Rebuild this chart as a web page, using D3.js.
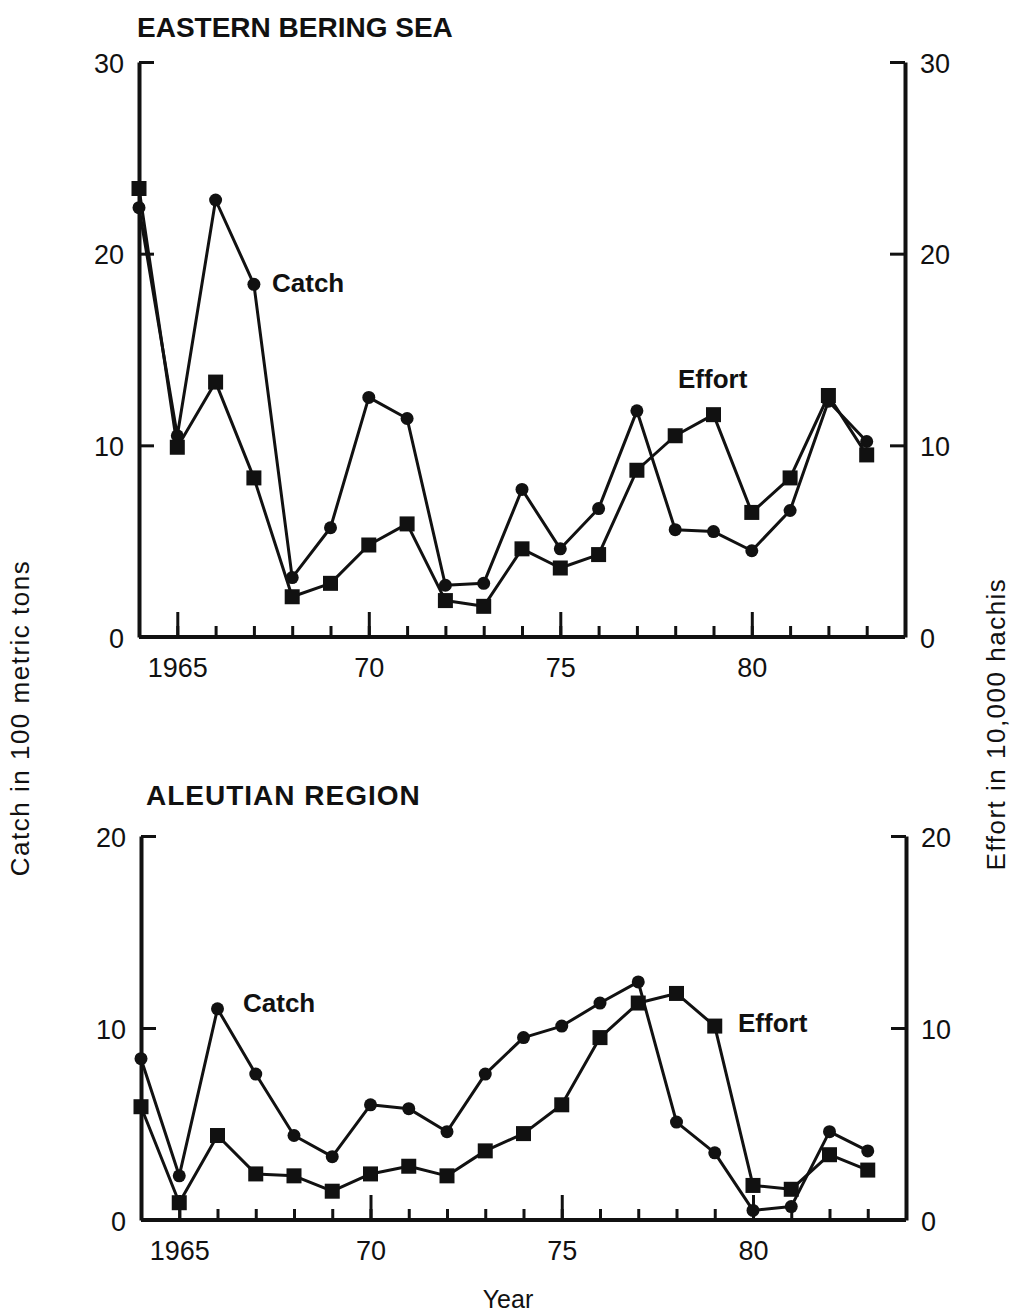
<!DOCTYPE html>
<html>
<head>
<meta charset="utf-8">
<script src="https://cdn.jsdelivr.net/npm/d3@7"></script>
<style>
  body { margin: 0; background: #fff; }
  svg { font-family: "Liberation Sans", Arial, sans-serif; }
  .tick text { font-size: 27px; fill: #111; font-family: "Liberation Sans", Arial, sans-serif; }
  .domain { stroke: #111; }
</style>
</head>
<body>
<svg id="chart" width="1010" height="1315"></svg>
<script>
// years on x
const years = d3.range(1964, 1984);
const majorYears = [1965, 1970, 1975, 1980];
const yearLabels = ["1965", "70", "75", "80"];

// Eastern Bering Sea
const beringCatch  = [22.4, 10.5, 22.8, 18.4, 3.1, 5.7, 12.5, 11.4, 2.7, 2.8, 7.7, 4.6, 6.7, 11.8, 5.6, 5.5, 4.5, 6.6, 12.3, 10.2];
const beringEffort = [23.4, 9.9, 13.3, 8.3, 2.1, 2.8, 4.8, 5.9, 1.9, 1.6, 4.6, 3.6, 4.3, 8.7, 10.5, 11.6, 6.5, 8.3, 12.6, 9.5];
const beringTicks = [0, 10, 20, 30];

// Aleutian Region
const aleutCatch  = [8.4, 2.3, 11.0, 7.6, 4.4, 3.3, 6.0, 5.8, 4.6, 7.6, 9.5, 10.1, 11.3, 12.4, 5.1, 3.5, 0.5, 0.7, 4.6, 3.6];
const aleutEffort = [5.9, 0.9, 4.4, 2.4, 2.3, 1.5, 2.4, 2.8, 2.3, 3.6, 4.5, 6.0, 9.5, 11.3, 11.8, 10.1, 1.8, 1.6, 3.4, 2.6];
const aleutTicks = [0, 10, 20];

const svg = d3.select("#chart");
const ink = "#111";

function drawPanel(opt) {
    const g = svg.append("g");
    const x = d3.scaleLinear().domain([1964, 1984]).range([opt.left, opt.right]);
    const y = d3.scaleLinear().domain([0, opt.max]).range([opt.bottom, opt.top]);

    // minor year ticks
    g.append("g")
        .attr("transform", "translate(0," + opt.bottom + ")")
        .call(d3.axisBottom(x).tickValues(years.slice(1)).tickSize(-11).tickFormat(""))
        .call(a => a.select(".domain").remove())
        .call(a => a.selectAll("line").attr("stroke", ink).attr("stroke-width", 3));

    // major year ticks + labels
    g.append("g")
        .attr("transform", "translate(0," + opt.bottom + ")")
        .call(d3.axisBottom(x).tickValues(majorYears).tickSizeInner(-25).tickSizeOuter(0)
            .tickFormat((d, i) => yearLabels[i]))
        .call(a => a.select(".domain").remove())
        .call(a => a.selectAll("line").attr("stroke", ink).attr("stroke-width", 3))
        .call(a => a.selectAll("text").attr("dy", null).attr("y", 40));

    // frame: bottom line, left and right axes
    g.append("line")
        .attr("x1", x(1964)).attr("x2", x(1984))
        .attr("y1", y(0)).attr("y2", y(0))
        .attr("stroke", ink).attr("stroke-width", 4);

    g.append("g")
        .attr("transform", "translate(" + opt.left + ",0)")
        .call(d3.axisLeft(y).tickValues(opt.ticks).tickSizeInner(-15).tickSizeOuter(0))
        .call(a => a.select(".domain").attr("stroke-width", 4))
        .call(a => a.selectAll("line").attr("stroke", ink).attr("stroke-width", 3))
        .call(a => a.selectAll("text").attr("text-anchor", "end").attr("x", -15).attr("dy", "0.38em"));

    g.append("g")
        .attr("transform", "translate(" + opt.right + ",0)")
        .call(d3.axisRight(y).tickValues(opt.ticks).tickSizeInner(-15).tickSizeOuter(0))
        .call(a => a.select(".domain").attr("stroke-width", 4))
        .call(a => a.selectAll("line").attr("stroke", ink).attr("stroke-width", 3))
        .call(a => a.selectAll("text").attr("text-anchor", "start").attr("x", 15).attr("dy", "0.38em"));

    const line = d3.line().x((d, i) => x(years[i])).y(d => y(d));

    [opt.catchData, opt.effortData].forEach(series => {
        g.append("path")
            .attr("d", line(series))
            .attr("fill", "none")
            .attr("stroke", ink)
            .attr("stroke-width", 3)
            .attr("stroke-linejoin", "round");
    });

    g.selectAll("circle.catch")
        .data(opt.catchData)
        .join("circle")
        .attr("class", "catch")
        .attr("cx", (d, i) => x(years[i]))
        .attr("cy", d => y(d))
        .attr("r", 6.5)
        .attr("fill", ink);

    g.selectAll("rect.effort")
        .data(opt.effortData)
        .join("rect")
        .attr("class", "effort")
        .attr("x", (d, i) => x(years[i]) - 7.5)
        .attr("y", d => y(d) - 7.5)
        .attr("width", 15)
        .attr("height", 15)
        .attr("fill", ink);

    g.append("text")
        .attr("x", opt.titleX).attr("y", opt.titleY)
        .attr("font-size", 28).attr("font-weight", "bold").attr("fill", ink)
        .attr("letter-spacing", opt.titleSpacing)
        .text(opt.title);

    opt.labels.forEach(l => {
        g.append("text")
            .attr("x", l.x).attr("y", l.y)
            .attr("font-size", 26).attr("font-weight", "bold").attr("fill", ink)
            .text(l.text);
    });
}

drawPanel({
    title: "EASTERN BERING SEA", titleX: 137, titleY: 37, titleSpacing: 0,
    left: 139, right: 905, top: 62, bottom: 637, max: 30,
    ticks: beringTicks,
    catchData: beringCatch, effortData: beringEffort,
    labels: [{ text: "Catch", x: 272, y: 292 }, { text: "Effort", x: 678, y: 388 }]
});

drawPanel({
    title: "ALEUTIAN REGION", titleX: 146, titleY: 805, titleSpacing: 1,
    left: 141, right: 906, top: 836, bottom: 1220, max: 20,
    ticks: aleutTicks,
    catchData: aleutCatch, effortData: aleutEffort,
    labels: [{ text: "Catch", x: 243, y: 1012 }, { text: "Effort", x: 738, y: 1032 }]
});

svg.append("text")
    .attr("x", 508).attr("y", 1308)
    .attr("text-anchor", "middle").attr("font-size", 25).attr("fill", ink)
    .text("Year");

svg.append("text")
    .attr("transform", "translate(29,718) rotate(-90)")
    .attr("text-anchor", "middle").attr("font-size", 26).attr("letter-spacing", 1.5).attr("fill", ink)
    .text("Catch in 100 metric tons");

svg.append("text")
    .attr("transform", "translate(1005,724) rotate(-90)")
    .attr("text-anchor", "middle").attr("font-size", 26).attr("letter-spacing", 1.5).attr("fill", ink)
    .text("Effort in 10,000 hachis");
</script>
</body>
</html>
